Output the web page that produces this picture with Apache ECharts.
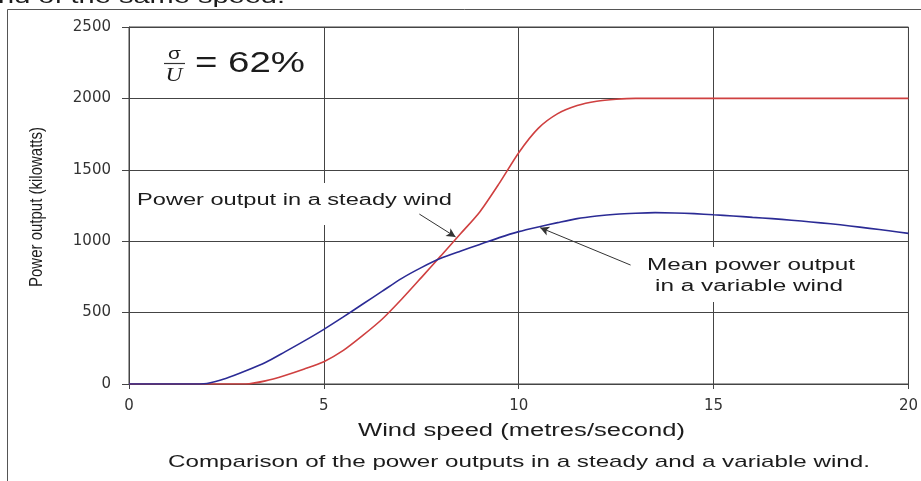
<!DOCTYPE html>
<html>
<head>
<meta charset="utf-8">
<script src="https://cdn.jsdelivr.net/npm/echarts@6/dist/echarts.min.js"></script>
<style>
  html, body { margin: 0; padding: 0; background: #fff; }
  #chart { width: 921px; height: 481px; }
</style>
</head>
<body>
<div id="chart"></div>
<script>
// Wind speed samples (m/s)
const windSpeed = [0, 0.5, 1, 1.5, 2, 2.5, 3, 3.5, 4, 4.5, 5, 5.5, 6, 6.5, 7, 7.5, 8, 8.5, 9, 9.5,
                   10, 10.5, 11, 11.5, 12, 12.5, 13, 13.5, 14, 14.5, 15, 15.5, 16, 16.5, 17, 17.5, 18, 18.5, 19, 19.5, 20];

// Power output in a steady wind (kW)
const steadyPower = [0, 0, 0, 0, 0, 0, 0, 22, 60, 105, 156, 235, 340, 455, 595, 745, 897, 1050, 1205, 1405,
                     1620, 1790, 1893, 1950, 1980, 1994, 2000, 2000, 2000, 2000, 2000, 2000, 2000, 2000, 2000, 2000, 2000, 2000, 2000, 2000, 2000];

// Mean power output in a variable wind (kW)
const variablePower = [0, 0, 0, 0, 4, 40, 92, 150, 225, 302, 383, 470, 560, 650, 740, 815, 880, 930, 977, 1025,
                       1067, 1100, 1130, 1158, 1176, 1189, 1196, 1200, 1198, 1193, 1185, 1177, 1167, 1158, 1147, 1135, 1122, 1107, 1090, 1073, 1055];

// Axis tick values
const xTicks = [0, 5, 10, 15, 20];
const yTicks = [0, 500, 1000, 1500, 2000, 2500];

// Texts
const headerText = 'nd of the same speed.';
const yTitle = 'Power output (kilowatts)';
const xTitle = 'Wind speed (metres/second)';
const caption = 'Comparison of the power outputs in a steady and a variable wind.';
const steadyLabel = 'Power output in a steady wind';
const variableLabel = ['Mean power output', 'in a variable wind'];
const ratioText = '= 62%';

const FONT = '"Liberation Sans", Arial, Helvetica, sans-serif';
const INK = '#1c1c1c';
const GRID = '#444';

const measureCtx = document.createElement('canvas').getContext('2d');
function widthOf(text, size, family) {
  measureCtx.font = size + 'px ' + family;
  return measureCtx.measureText(text).width;
}

// Text horizontally stretched to a given width
function wideText(text, x, y, size, targetWidth, align) {
  return {
    type: 'text', x: x, y: y, z: 10,
    scaleX: targetWidth / widthOf(text, size, FONT),
    style: {
      text: text, x: 0, y: 0,
      align: align || 'center', verticalAlign: 'middle',
      fontSize: size, fontFamily: FONT, fill: INK
    }
  };
}

const pairs = (ys) => windSpeed.map((x, i) => [x, ys[i]]);

const chart = echarts.init(document.getElementById('chart'), null, { renderer: 'canvas' });

const tickLabel = {
  fontSize: 15, fontFamily: '"DejaVu Sans", sans-serif', color: '#333',
  showMinLabel: true, showMaxLabel: true,
  formatter: (v) => String(v)
};

const option = {
  animation: false,
  backgroundColor: '#fff',
  grid: {
    left: 129, top: 27, width: 783, height: 357,
    show: true, borderColor: GRID, borderWidth: 1, backgroundColor: 'transparent'
  },
  xAxis: {
    type: 'value',
    min: xTicks[0], max: xTicks[xTicks.length - 1], interval: xTicks[1] - xTicks[0],
    axisLine: { show: true, onZero: false, lineStyle: { color: GRID, width: 1 } },
    axisTick: { show: true, length: 5, lineStyle: { color: GRID } },
    axisLabel: Object.assign({ margin: 15 }, tickLabel),
    splitLine: { show: true, lineStyle: { color: GRID, width: 1 } }
  },
  yAxis: {
    type: 'value',
    min: yTicks[0], max: yTicks[yTicks.length - 1], interval: yTicks[1] - yTicks[0],
    axisLine: { show: true, onZero: false, lineStyle: { color: GRID, width: 1 } },
    axisTick: { show: true, length: 7, lineStyle: { color: GRID } },
    axisLabel: Object.assign({ margin: 18 }, tickLabel),
    splitLine: { show: true, lineStyle: { color: GRID, width: 1 } }
  },
  series: [
    {
      name: steadyLabel,
      type: 'line',
      data: pairs(steadyPower),
      showSymbol: false,
      smooth: 0.25,
      lineStyle: { color: '#cf4040', width: 1.6 },
      z: 3,
      markLine: {
        silent: true, animation: false,
        symbol: ['none', 'arrow'], symbolSize: [7, 9],
        label: { show: false },
        lineStyle: { color: '#333', width: 1, type: 'solid' },
        data: [[{ coord: [7.45, 1190] }, { coord: [8.38, 1030] }]]
      }
    },
    {
      name: variableLabel.join(' '),
      type: 'line',
      data: pairs(variablePower),
      showSymbol: false,
      smooth: 0.25,
      lineStyle: { color: '#2b2b95', width: 1.6 },
      z: 3,
      markLine: {
        silent: true, animation: false,
        symbol: ['none', 'arrow'], symbolSize: [7, 9],
        label: { show: false },
        lineStyle: { color: '#333', width: 1, type: 'solid' },
        data: [[{ coord: [12.87, 833] }, { coord: [10.55, 1095] }]]
      }
    }
  ],
  graphic: {
    elements: [
      // outer frame
      { type: 'polyline', z: 1, shape: { points: [[7.5, 481], [7.5, 9.5], [921, 9.5]] },
        style: { stroke: '#555', lineWidth: 1, fill: null } },
      // header line running off the top edge
      wideText(headerText, -2, -3, 21, 287, 'left'),
      // white boxes behind annotations
      { type: 'rect', z: 1, shape: { x: 131, y: 183, width: 325, height: 42 }, style: { fill: '#fff' } },
      { type: 'rect', z: 1, shape: { x: 638, y: 247, width: 226, height: 55 }, style: { fill: '#fff' } },
      wideText(steadyLabel, 294.5, 201, 16, 315),
      wideText(variableLabel[0], 751, 266, 16, 208),
      wideText(variableLabel[1], 749, 287, 16, 188),
      // sigma / U ratio
      { type: 'text', x: 174.5, y: 55, z: 10, scaleX: 1.3,
        style: { text: 'σ', x: 0, y: 0, align: 'center', verticalAlign: 'middle',
                 fontSize: 16, fontFamily: FONT, fill: INK } },
      { type: 'line', z: 10, shape: { x1: 164, y1: 63.5, x2: 185, y2: 63.5 },
        style: { stroke: '#333', lineWidth: 1.2 } },
      { type: 'text', x: 174, y: 76, z: 10, scaleX: 1.3,
        style: { text: 'U', x: 0, y: 0, align: 'center', verticalAlign: 'middle',
                 fontSize: 18, fontStyle: 'italic', fontFamily: '"Liberation Serif", serif', fill: INK } },
      wideText(ratioText, 250, 64, 29, 110),
      // y-axis title, glyphs widened across the reading direction
      { type: 'text', x: 37, y: 207, z: 10, rotation: Math.PI / 2, scaleY: 1.35,
        scaleX: 160 / widthOf(yTitle, 14, FONT),
        style: { text: yTitle, x: 0, y: 0, align: 'center', verticalAlign: 'middle',
                 fontSize: 14, fontFamily: FONT, fill: INK } },
      // x-axis title and caption
      wideText(xTitle, 521.5, 431, 18, 327),
      wideText(caption, 519, 462, 17, 702)
    ]
  }
};

chart.setOption(option);
</script>
</body>
</html>
